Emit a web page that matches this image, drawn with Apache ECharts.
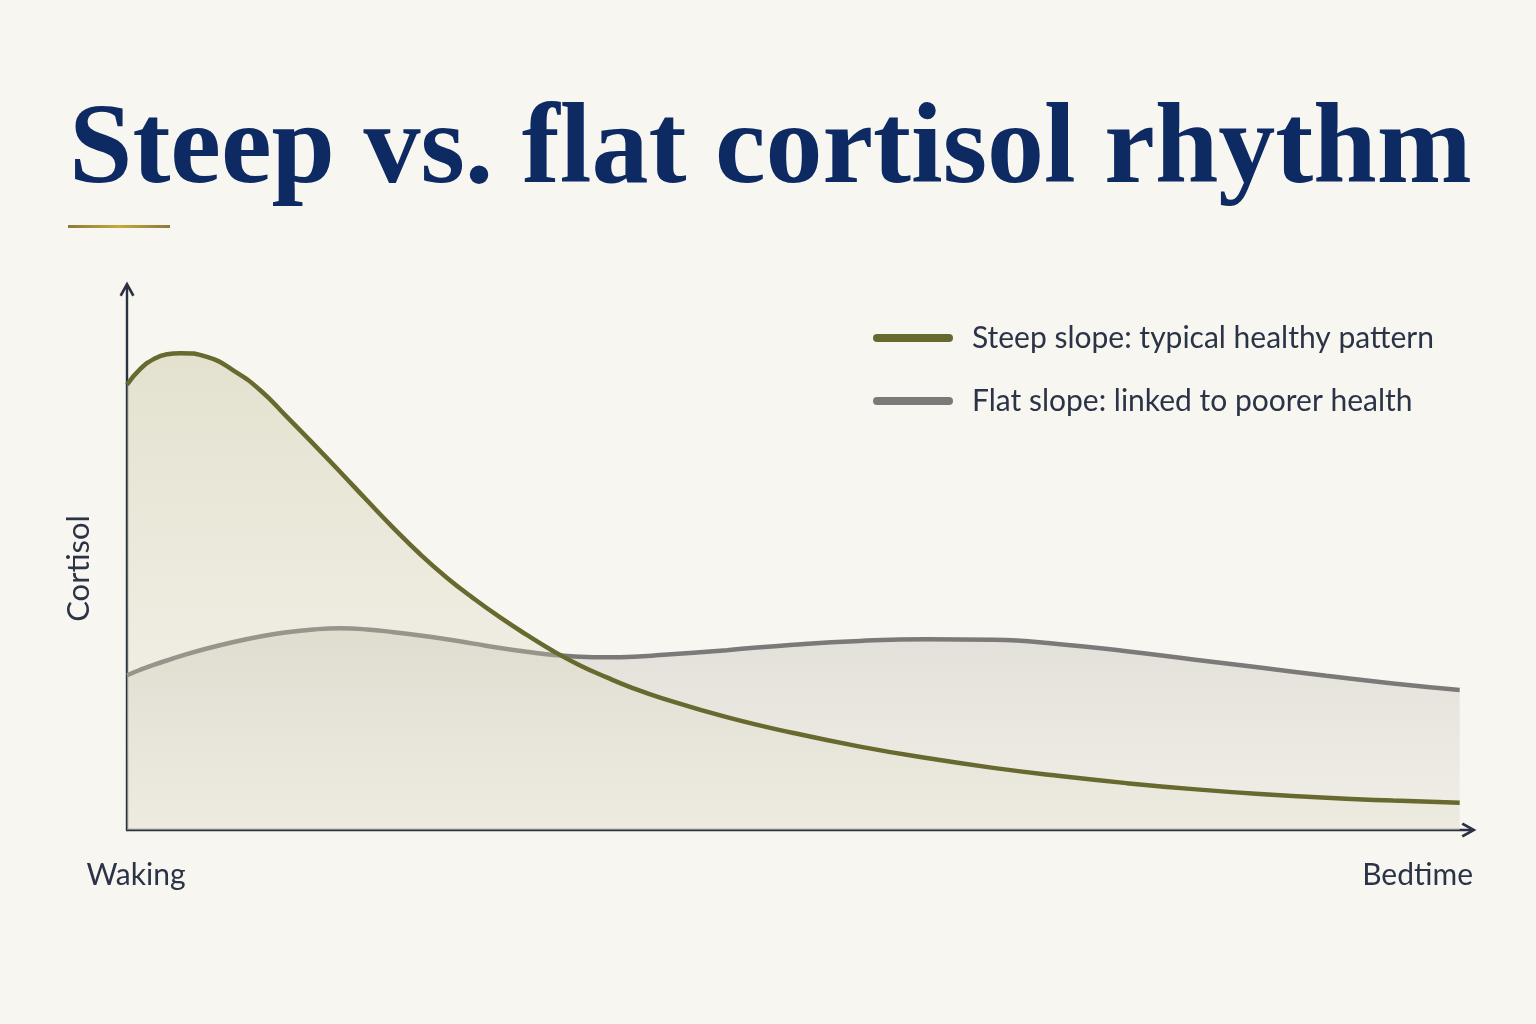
<!DOCTYPE html>
<html>
<head>
<meta charset="utf-8">
<script src="https://cdn.jsdelivr.net/npm/echarts@6/dist/echarts.min.js"></script>
<style>
html,body{margin:0;padding:0;background:#f8f6f1;}
#chart{width:1536px;height:1024px;}
</style>
</head>
<body>
<div id="chart"></div>
<script>
// ---- data ----
const titleText = 'Steep vs. flat cortisol rhythm';
const seriesNames = ['Steep slope: typical healthy pattern', 'Flat slope: linked to poorer health'];
const xTickLabels = ['Waking', 'Bedtime'];
const yAxisName = 'Cortisol';

// time through the waking day (0 = waking, 100 = bedtime)
const timePoints  = [0,    1,    2,    3,    4,    6,    8,    10,   12,   14,   16,   18,   20,   22,   24,   26,   28,   30,   32,   34,   36,   38,   40,
                     45,   50,   55,   60,   65,   70,   75,   80,   85,   90,   95,   100];
const steepValues = [81.7, 84.6, 86.4, 87.3, 87.5, 86.8, 84.3, 80.7, 75.8, 70.8, 65.7, 60.5, 55.4, 50.6, 46.3, 42.5, 39.0, 35.8, 32.8, 30.2, 28.0, 26.0, 24.3,
                     20.7, 17.8, 15.3, 13.2, 11.4, 9.9,  8.6,  7.5,  6.6,  5.9,  5.4,  5.0];
const flatValues  = [28.4, 29.4, 30.3, 31.1, 31.9, 33.3, 34.5, 35.5, 36.3, 36.8, 37.0, 36.8, 36.3, 35.7, 35.0, 34.2, 33.4, 32.7, 32.1, 31.8, 31.7, 31.8, 32.1,
                     33.0, 34.0, 34.7, 35.0, 34.9, 34.1, 32.8, 31.3, 29.8, 28.3, 26.9, 25.7];

const xMin = 0, xMax = 101;

const zip = (xs, ys) => xs.map((x, i) => [x, ys[i]]);

const chevron = 'path://M0,9 L5,0 L10,9 L8.5,10 L5,3.6 L1.5,10 Z';
const pill = 'path://M4,0 H76 A4,4 0 0 1 76,8 H4 A4,4 0 0 1 4,0 Z';

const labelFont = 'Lato';
const labelColor = '#2b3446';
const axisColor = '#2a3242';

const chart = echarts.init(document.getElementById('chart'));
chart.setOption({
  backgroundColor: '#f8f6f1',
  animation: false,
  title: {
    text: titleText,
    left: 64,
    top: 91,
    textStyle: {
      fontFamily: 'Liberation Serif',
      fontWeight: 'bold',
      fontSize: 114,
      color: '#0e2a62'
    }
  },
  graphic: [{
    type: 'rect',
    shape: { x: 68, y: 225, width: 102, height: 3 },
    style: {
      fill: new echarts.graphic.LinearGradient(0, 0, 1, 0, [
        { offset: 0, color: '#8a7a3c' },
        { offset: 0.5, color: '#c8a838' },
        { offset: 1, color: '#8a7a3c' }
      ])
    }
  }],
  legend: {
    orient: 'vertical',
    left: 868,
    top: 318,
    itemWidth: 80,
    itemHeight: 8,
    itemGap: 33,
    icon: pill,
    textStyle: {
      fontFamily: labelFont,
      fontSize: 30,
      color: labelColor,
      padding: [0, 0, 0, 14]
    },
    data: seriesNames
  },
  grid: { left: 127, right: 63, top: 285, bottom: 194, containLabel: false },
  xAxis: {
    type: 'value',
    min: xMin,
    max: xMax,
    interval: xMax - xMin,
    splitLine: { show: false },
    axisTick: { show: false },
    axisLine: {
      show: true,
      lineStyle: { color: axisColor, width: 2.4 },
      symbol: ['none', chevron],
      symbolSize: [19, 15],
      symbolOffset: [0, -4]
    },
    axisLabel: {
      fontFamily: labelFont,
      fontSize: 30,
      color: labelColor,
      margin: 30,
      padding: [0, 0, 0, 18],
      showMinLabel: true,
      showMaxLabel: true,
      alignMaxLabel: 'right',
      formatter: (v) => v === xMin ? xTickLabels[0] : (v === xMax ? xTickLabels[1] : '')
    }
  },
  yAxis: {
    type: 'value',
    min: 0,
    max: 100,
    name: yAxisName,
    nameLocation: 'middle',
    nameRotate: 90,
    nameGap: 33,
    nameTextStyle: { fontFamily: labelFont, fontSize: 31, color: labelColor, padding: [0, 22, 0, 0] },
    splitLine: { show: false },
    axisTick: { show: false },
    axisLabel: { show: false },
    axisLine: {
      show: true,
      lineStyle: { color: axisColor, width: 2.4 },
      symbol: ['none', chevron],
      symbolSize: [19, 15],
      symbolOffset: [0, -4]
    }
  },
  series: [
    {
      name: seriesNames[1],
      type: 'line',
      smooth: 0.5,
      symbol: 'none',
      z: 2,
      data: zip(timePoints, flatValues),
      lineStyle: { color: '#7b7a78', width: 4.5 },
      itemStyle: { color: '#7b7a78' },
      areaStyle: {
        color: new echarts.graphic.LinearGradient(0, 0, 0, 1, [
          { offset: 0, color: 'rgba(200,197,190,0.65)' },
          { offset: 1, color: 'rgba(222,219,205,0.45)' }
        ])
      }
    },
    {
      name: seriesNames[0],
      type: 'line',
      smooth: 0.5,
      symbol: 'none',
      z: 3,
      data: zip(timePoints, steepValues),
      lineStyle: { color: '#67692f', width: 4.5 },
      itemStyle: { color: '#67692f' },
      areaStyle: {
        color: new echarts.graphic.LinearGradient(0, 0, 0, 1, [
          { offset: 0, color: 'rgba(198,195,158,0.6)' },
          { offset: 1, color: 'rgba(228,225,205,0.30)' }
        ])
      }
    }
  ]
});
</script>
</body>
</html>
